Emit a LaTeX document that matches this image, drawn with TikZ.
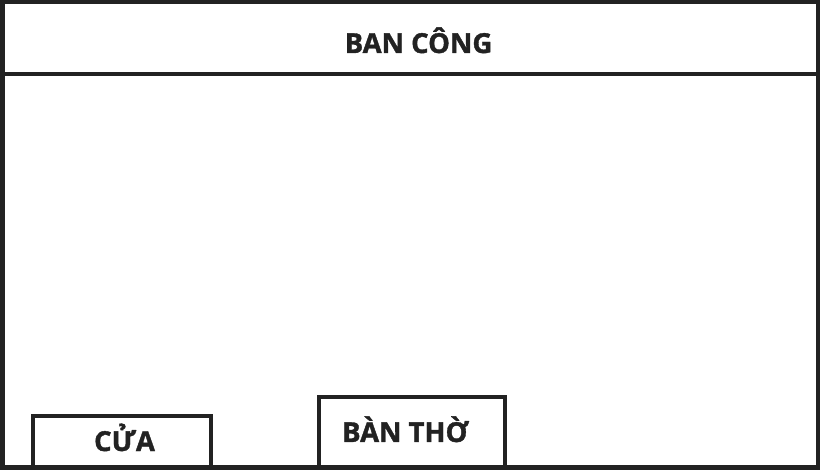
\documentclass[tikz,border=0pt]{standalone}
\usepackage{fontspec}
\setmainfont{Open Sans}
\newfontfamily\heavy[BoldFeatures={FakeBold=1.3}]{Open Sans}
\definecolor{ink}{HTML}{222222}
\begin{document}
\begin{tikzpicture}[x=1pt,y=-1pt,
  wall/.style={draw=ink,line width=4.5pt},
  lbl/.style={text=ink,font=\heavy\bfseries\fontsize{27.5}{32}\selectfont,inner sep=0pt,anchor=base}]
\useasboundingbox (0,0) rectangle (820,470);
\draw[wall,fill=white] (2.25,2.25) rectangle (817.75,467.75);
\draw[wall] (2.25,74) -- (817.75,74);
\node[lbl] (bancong) at (418.5,53) {BAN CÔNG};
\draw[wall] (33,467.75) |- (211,416) -- (211,467.75);
\node[lbl] (cua) at (124.5,451) {CỬA};
\draw[wall] (319,467.75) |- (505,397) -- (505,467.75);
\node[lbl,anchor=base west] (banTho) at (342,442) {BÀN THỜ};
\end{tikzpicture}
\end{document}
